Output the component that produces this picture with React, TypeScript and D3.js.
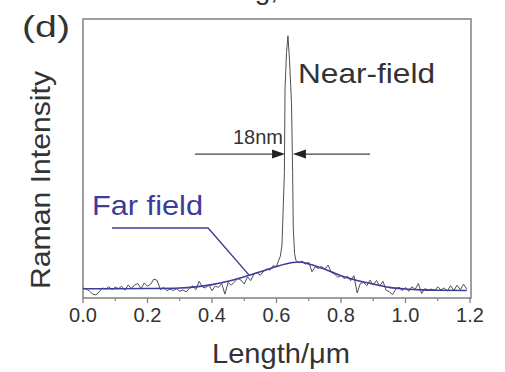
import React from "react";
import * as d3 from "d3";

// Raman line profile across the tip: raw scan (grey) and far-field fit (blue)
const rawLength = [
  0.0, 0.01, 0.02, 0.03, 0.04, 0.05, 0.06, 0.07, 0.08, 0.09,
  0.1, 0.11, 0.12, 0.13, 0.14, 0.15, 0.16, 0.17, 0.18, 0.19,
  0.2, 0.21, 0.22, 0.23, 0.24, 0.25, 0.26, 0.27, 0.28, 0.29,
  0.3, 0.31, 0.32, 0.33, 0.34, 0.35, 0.36, 0.37, 0.38, 0.39,
  0.4, 0.41, 0.42, 0.43, 0.44, 0.45, 0.46, 0.47, 0.48, 0.49,
  0.5, 0.51, 0.52, 0.53, 0.54, 0.55, 0.56, 0.57, 0.58, 0.59,
  0.6, 0.605, 0.612, 0.617, 0.6245, 0.6265, 0.631, 0.6355, 0.6405, 0.6465,
  0.65, 0.652, 0.656, 0.66, 0.67, 0.68, 0.69, 0.7, 0.71, 0.72,
  0.73, 0.74, 0.75, 0.76, 0.77, 0.78, 0.79, 0.8, 0.81, 0.82,
  0.83, 0.84, 0.85, 0.86, 0.87, 0.88, 0.89, 0.9, 0.91, 0.92,
  0.93, 0.94, 0.95, 0.96, 0.97, 0.98, 0.99, 1.0, 1.01, 1.02,
  1.03, 1.04, 1.05, 1.06, 1.07, 1.08, 1.09, 1.1, 1.11, 1.12,
  1.13, 1.14, 1.15, 1.16, 1.17, 1.18, 1.19,
];
const rawIntensity = [
  3.6, 3.2, 2.5, 1.4, 1.1, 2.2, 3.6, 3.2, 4.0, 3.0,
  3.9, 3.4, 4.2, 2.8, 4.7, 3.5, 4.6, 5.2, 3.3, 5.4,
  4.2, 5.0, 6.8, 6.3, 3.0, 3.8, 2.6, 3.2, 2.7, 3.3,
  2.4, 2.9, 2.2, 3.5, 4.4, 3.0, 6.0, 4.0, 3.6, 4.8,
  2.6, 4.3, 3.8, 5.2, 1.4, 5.6, 4.6, 5.8, 7.0, 6.4,
  5.0, 7.6, 6.2, 8.6, 9.0, 8.2, 9.6, 10.4, 10.0, 11.6,
  11.2, 13.0, 15.0, 19.0, 45.0, 75.0, 88.0, 94.0, 85.0, 70.0,
  45.0, 25.0, 16.0, 13.5, 12.6, 13.2, 12.2, 12.8, 9.4, 11.2,
  10.6, 11.4, 10.2, 11.8, 9.2, 8.6, 7.4, 8.2, 6.9, 7.8,
  6.2, 8.0, 1.8, 5.2, 5.6, 4.4, 6.4, 4.6, 6.3, 4.2,
  6.0, 2.8, 2.2, 1.2, 3.2, 3.9, 2.6, 3.8, 2.4, 4.0,
  3.1, 5.2, 1.6, 3.4, 2.8, 3.2, 2.6, 4.0, 2.9, 3.6,
  2.5, 4.4, 2.7, 4.6, 3.0, 4.9, 3.2,
];

const fitLength = [
  0.0, 0.1, 0.2, 0.3, 0.35, 0.4, 0.45, 0.5, 0.55, 0.6,
  0.65, 0.67, 0.7, 0.75, 0.8, 0.85, 0.9, 0.95, 1.0, 1.05,
  1.1, 1.19,
];
const fitIntensity = [
  3.3, 3.3, 3.4, 3.6, 4.0, 4.8, 6.0, 7.6, 9.4, 11.3,
  12.7, 12.9, 12.2, 10.3, 8.0, 6.3, 5.0, 3.8, 3.2, 2.9,
  2.8, 2.7,
];

const xTicks = [0, 0.2, 0.4, 0.6, 0.8, 1.0, 1.2];
const xMinorTicks = [0.1, 0.3, 0.5, 0.7, 0.9, 1.1];

// Annotation anchors in data units
const fwhmLeft = 0.6265;
const fwhmRight = 0.651;
const fwhmLevel = 51.6;
const fwhmLabel = "18nm";
const farLabel = "Far field";
const nearLabel = "Near-field";
const farPointer = [
  [0.09, 25.1],
  [0.388, 25.1],
  [0.515, 8.2],
];

const W = 505;
const H = 372;
const font = "'Liberation Sans', Arial, Helvetica, sans-serif";
const textColor = "#333";
const frameColor = "#808080";
const blue = "#3c3c9a";

export default function App() {
  const x = d3.scaleLinear().domain([0, 1.2]).range([83, 470]);
  const y = d3.scaleLinear().domain([0, 100]).range([298, 19]);

  const rawLine = d3
    .line<number>()
    .x((_, i) => x(rawLength[i]))
    .y((d) => y(d))(rawIntensity);

  const fitLine = d3
    .line<number>()
    .x((_, i) => x(fitLength[i]))
    .y((d) => y(d))
    .curve(d3.curveMonotoneX)(fitIntensity);

  const pointer = d3
    .line<number[]>()
    .x((d) => x(d[0]))
    .y((d) => y(d[1]))(farPointer);

  const ay = y(fwhmLevel);
  const xl = x(fwhmLeft);
  const xr = x(fwhmRight);
  const headLen = 13;
  const headHalf = 4.5;

  return (
    <svg
      width={W}
      height={H}
      style={{ position: "absolute", left: 0, top: 0, background: "#fff" }}
      fontFamily={font}
    >
      <rect width={W} height={H} fill="#fff" />

      {/* partially clipped heading above the panel */}
      <text x={278} y={-1} fontSize={28} fill={textColor} textAnchor="end">
        Line scanning,
      </text>

      {/* frame */}
      <rect
        x={x(0)}
        y={y(100)}
        width={471 - x(0)}
        height={y(0) - y(100)}
        fill="none"
        stroke={frameColor}
        strokeWidth={1.5}
      />

      {/* x ticks */}
      {xTicks.map((t) => (
        <line
          key={"M" + t}
          x1={x(t)}
          x2={x(t)}
          y1={y(0)}
          y2={y(0) + 5}
          stroke={frameColor}
          strokeWidth={1.3}
        />
      ))}
      {xMinorTicks.map((t) => (
        <line
          key={"m" + t}
          x1={x(t)}
          x2={x(t)}
          y1={y(0)}
          y2={y(0) + 3}
          stroke={frameColor}
          strokeWidth={1.2}
        />
      ))}
      {xTicks.map((t) => (
        <text
          key={"L" + t}
          x={x(t)}
          y={322}
          fontSize={20}
          fill={textColor}
          textAnchor="middle"
        >
          {t.toFixed(1)}
        </text>
      ))}

      {/* data */}
      <path d={rawLine ?? ""} fill="none" stroke="#505050" strokeWidth={1} />
      <path d={fitLine ?? ""} fill="none" stroke={blue} strokeWidth={1.6} />

      {/* far-field annotation */}
      <path d={pointer ?? ""} fill="none" stroke={blue} strokeWidth={1.4} />
      <text
        x={92}
        y={215}
        fontSize={28}
        fill={blue}
        textLength={111}
        lengthAdjust="spacingAndGlyphs"
      >
        {farLabel}
      </text>

      {/* near-field label */}
      <text
        x={298}
        y={83}
        fontSize={28}
        fill={textColor}
        textLength={137}
        lengthAdjust="spacingAndGlyphs"
      >
        {nearLabel}
      </text>

      {/* FWHM arrows */}
      <line x1={x(0.347)} x2={xl - headLen} y1={ay} y2={ay} stroke="#444" strokeWidth={1.3} />
      <polygon
        points={`${xl},${ay} ${xl - headLen},${ay - headHalf} ${xl - headLen},${ay + headHalf}`}
        fill="#222"
      />
      <line x1={xr + headLen} x2={x(0.89)} y1={ay} y2={ay} stroke="#444" strokeWidth={1.3} />
      <polygon
        points={`${xr},${ay} ${xr + headLen},${ay - headHalf} ${xr + headLen},${ay + headHalf}`}
        fill="#222"
      />
      <text x={233} y={144} fontSize={20} fill={textColor}>
        {fwhmLabel}
      </text>

      {/* panel letter */}
      <text
        x={22}
        y={37}
        fontSize={30}
        fill={textColor}
        textLength={48}
        lengthAdjust="spacingAndGlyphs"
      >
        (d)
      </text>

      {/* axis titles */}
      <text
        transform="translate(50,180) rotate(-90)"
        fontSize={28}
        fill={textColor}
        textAnchor="middle"
        textLength={218}
        lengthAdjust="spacingAndGlyphs"
      >
        Raman Intensity
      </text>
      <text
        x={281}
        y={363}
        fontSize={28}
        fill={textColor}
        textAnchor="middle"
        textLength={138}
        lengthAdjust="spacingAndGlyphs"
      >
        Length/μm
      </text>
    </svg>
  );
}
